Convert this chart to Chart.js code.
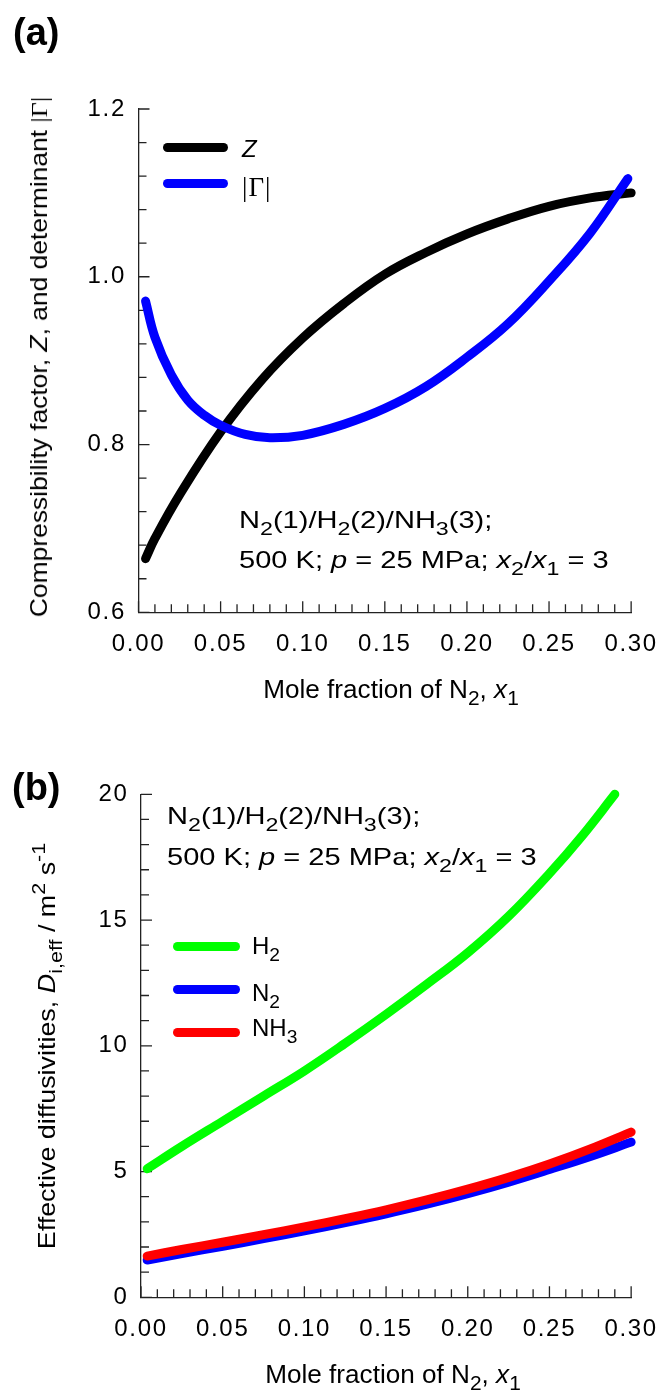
<!DOCTYPE html>
<html lang="en">
<head>
<meta charset="UTF-8">
<title>N2/H2/NH3 mixture at 500 K</title>
<script src="https://cdn.jsdelivr.net/npm/chart.js"></script>
<style>
  body { margin: 0; background: #fff; font-family: "Liberation Sans", Arial, sans-serif; color: #000; }
  #page { position: relative; width: 672px; height: 1392px; overflow: hidden; }
  canvas { position: absolute; left: 0; }
  .txt { position: absolute; font-size: 24px; line-height: 24px; white-space: nowrap; }
  .txt sub { font-size: 0.8em; vertical-align: -0.35em; line-height: 0; }
  .txt sup { font-size: 0.8em; vertical-align: 0.5em; line-height: 0; }
  .panel { font-weight: bold; font-size: 38px; line-height: 38px; }
  .ytitle { transform: translate(-50%, -50%) rotate(-90deg) scaleX(1.1); }
  .xtitle { transform: translateX(-50%) scaleX(1.045); font-size: 25px; }
  .note { transform-origin: 0 50%; transform: scaleX(1.21); }
  .serif { font-family: "Liberation Serif", "Times New Roman", serif; }
  .swatch { position: absolute; height: 9px; border-radius: 4.5px; }
</style>
</head>
<body>
<div id="page">
  <canvas id="chartA" width="672" height="700" style="top:0"></canvas>
  <canvas id="chartB" width="672" height="692" style="top:700px"></canvas>

  <!-- panel (a) -->
  <div class="txt panel" style="left:13px; top:13px">(a)</div>
  <div class="txt ytitle" style="left:39px; top:357px">Compressibility factor, <i>Z</i>, and determinant <span class="serif">|&Gamma;|</span></div>
  <div class="txt xtitle" style="left:391px; top:677px">Mole fraction of N<sub>2</sub>, <i>x</i><sub>1</sub></div>
  <div class="swatch" style="left:163px; top:143px; width:65px; background:#000"></div>
  <div class="txt" style="left:242px; top:137px"><i>Z</i></div>
  <div class="swatch" style="left:163px; top:179px; width:65px; background:#0000ff"></div>
  <div class="txt serif" style="left:242px; top:174px; font-size:27px; line-height:27px; letter-spacing:1px">|&Gamma;|</div>
  <div class="txt note" style="left:239px; top:508px">N<sub>2</sub>(1)/H<sub>2</sub>(2)/NH<sub>3</sub>(3);</div>
  <div class="txt note" style="left:239px; top:548px">500 K; <i>p</i> = 25 MPa; <i>x</i><sub>2</sub>/<i>x</i><sub>1</sub> = 3</div>

  <!-- panel (b) -->
  <div class="txt panel" style="left:12px; top:768px">(b)</div>
  <div class="txt ytitle" style="left:47px; top:1046px; transform: translate(-50%, -50%) rotate(-90deg) scaleX(1.12)">Effective diffusivities, <i>D</i><sub>i,eff</sub> / m<sup>2</sup> s<sup>-1</sup></div>
  <div class="txt xtitle" style="left:393px; top:1362px">Mole fraction of N<sub>2</sub>, <i>x</i><sub>1</sub></div>
  <div class="txt note" style="left:167px; top:804px">N<sub>2</sub>(1)/H<sub>2</sub>(2)/NH<sub>3</sub>(3);</div>
  <div class="txt note" style="left:167px; top:845px">500 K; <i>p</i> = 25 MPa; <i>x</i><sub>2</sub>/<i>x</i><sub>1</sub> = 3</div>
  <div class="swatch" style="left:173px; top:942px; width:67px; background:#00ff00"></div>
  <div class="txt" style="left:252px; top:934px">H<sub>2</sub></div>
  <div class="swatch" style="left:173px; top:985px; width:67px; background:#0000ff"></div>
  <div class="txt" style="left:252px; top:981px">N<sub>2</sub></div>
  <div class="swatch" style="left:173px; top:1028px; width:67px; background:#ff0000"></div>
  <div class="txt" style="left:252px; top:1016px">NH<sub>3</sub></div>
</div>

<script>
// (a) compressibility factor and thermodynamic factor determinant
const xZ = [0.0043, 0.01, 0.025, 0.05, 0.075, 0.10, 0.125, 0.15, 0.175, 0.20, 0.225, 0.25, 0.275, 0.30];
const zFactor = [0.664, 0.688, 0.740, 0.815, 0.877, 0.927, 0.968, 1.003, 1.029, 1.051, 1.069, 1.084, 1.094, 1.100];
const xGamma = [0.0043, 0.01, 0.02, 0.03, 0.04, 0.05, 0.065, 0.08, 0.10, 0.125, 0.15, 0.175, 0.20, 0.225, 0.25, 0.275, 0.298];
const gammaDet = [0.971, 0.928, 0.883, 0.853, 0.835, 0.823, 0.812, 0.808, 0.811, 0.824, 0.843, 0.869, 0.904, 0.944, 0.995, 1.052, 1.117];

// (b) effective diffusivities
const xH2 = [0.0038, 0.025, 0.05, 0.075, 0.10, 0.125, 0.15, 0.175, 0.20, 0.225, 0.25, 0.27, 0.29];
const dH2 = [5.11, 6.0, 7.0, 8.0, 9.0, 10.1, 11.25, 12.45, 13.7, 15.15, 16.85, 18.35, 20.0];
const xDiff = [0.0038, 0.025, 0.05, 0.075, 0.10, 0.125, 0.15, 0.175, 0.20, 0.225, 0.25, 0.275, 0.30];
const dN2 = [1.48, 1.74, 2.03, 2.33, 2.64, 2.97, 3.32, 3.70, 4.12, 4.58, 5.08, 5.60, 6.17];
const dNH3 = [1.64, 1.90, 2.19, 2.49, 2.80, 3.13, 3.48, 3.87, 4.30, 4.77, 5.30, 5.90, 6.57];

const xTicks = [0, 0.05, 0.10, 0.15, 0.20, 0.25, 0.30];
const FONT = '"Liberation Sans", Arial, sans-serif';

function pts(xs, ys) {
  return xs.map((x, i) => ({ x: x, y: ys[i] }));
}

function series(xs, ys, color, order) {
  return {
    data: pts(xs, ys),
    borderColor: color,
    borderWidth: 9,
    borderCapStyle: 'round',
    borderJoinStyle: 'round',
    pointRadius: 0,
    fill: false,
    tension: 0.4,
    clip: false,
    order: order
  };
}

// inward ticks on both axes, major every 5th minor; wider tick-label spacing
const inwardTicks = {
  id: 'inwardTicks',
  beforeDraw(chart) {
    chart.ctx.letterSpacing = '1.7px';
  },
  beforeDatasetsDraw(chart, args, opts) {
    const ctx = chart.ctx;
    const xs = chart.scales.x, ys = chart.scales.y;
    ctx.save();
    ctx.strokeStyle = '#222';
    ctx.lineWidth = 1.3;
    ctx.beginPath();
    for (let i = 0; i <= opts.xCount; i++) {
      const px = xs.getPixelForValue(xs.min + i * opts.xMinor);
      const len = i % 5 === 0 ? 11 : 8;
      ctx.moveTo(px, ys.bottom);
      ctx.lineTo(px, ys.bottom - len);
    }
    for (let i = 0; i <= opts.yCount; i++) {
      const py = ys.getPixelForValue(ys.min + i * opts.yMinor);
      const len = i % 5 === 0 ? 11 : 8;
      ctx.moveTo(xs.left, py);
      ctx.lineTo(xs.left + len, py);
    }
    ctx.stroke();
    ctx.restore();
  }
};

function makeChart(id, datasets, yMin, yMax, yStep, yFmt, box, minor) {
  return new Chart(document.getElementById(id), {
    type: 'line',
    data: { datasets: datasets },
    options: {
      responsive: false,
      animation: false,
      devicePixelRatio: 1,
      events: [],
      layout: { padding: { top: box.top, right: box.right, left: 0, bottom: 0 } },
      scales: {
        x: {
          type: 'linear', min: 0, max: 0.30,
          afterBuildTicks: s => { s.ticks = xTicks.map(v => ({ value: v })); },
          afterFit: s => { s.height = box.xHeight; },
          grid: { display: false, drawTicks: false },
          border: { display: true, color: '#222', width: 1.3 },
          ticks: { padding: 17.5, color: '#000', font: { family: FONT, size: 24 }, maxRotation: 0,
                   callback: v => Number(v).toFixed(2) }
        },
        y: {
          type: 'linear', min: yMin, max: yMax,
          ticks: { stepSize: yStep, padding: 12.5, color: '#000', font: { family: FONT, size: 24 },
                   callback: v => Number(v).toFixed(yFmt) },
          afterFit: s => { s.width = box.yWidth; },
          grid: { display: false, drawTicks: false },
          border: { display: true, color: '#222', width: 1.3 }
        }
      },
      plugins: {
        legend: { display: false },
        tooltip: { enabled: false },
        inwardTicks: minor
      }
    },
    plugins: [inwardTicks]
  });
}

makeChart('chartA', [
  series(xZ, zFactor, '#000000', 2),
  series(xGamma, gammaDet, '#0000ff', 1)
], 0.6, 1.2, 0.2, 1,
  { top: 109, right: 29, yWidth: 138.5, xHeight: 87.7 },
  { xMinor: 0.01, xCount: 30, yMinor: 0.04, yCount: 15 });

makeChart('chartB', [
  series(xH2, dH2, '#00ff00', 3),
  series(xDiff, dN2, '#0000ff', 2),
  series(xDiff, dNH3, '#ff0000', 1)
], 0, 20, 5, 0,
  { top: 94.3, right: 27.3, yWidth: 141, xHeight: 94.7 },
  { xMinor: 0.01, xCount: 30, yMinor: 1, yCount: 20 });
</script>
</body>
</html>
